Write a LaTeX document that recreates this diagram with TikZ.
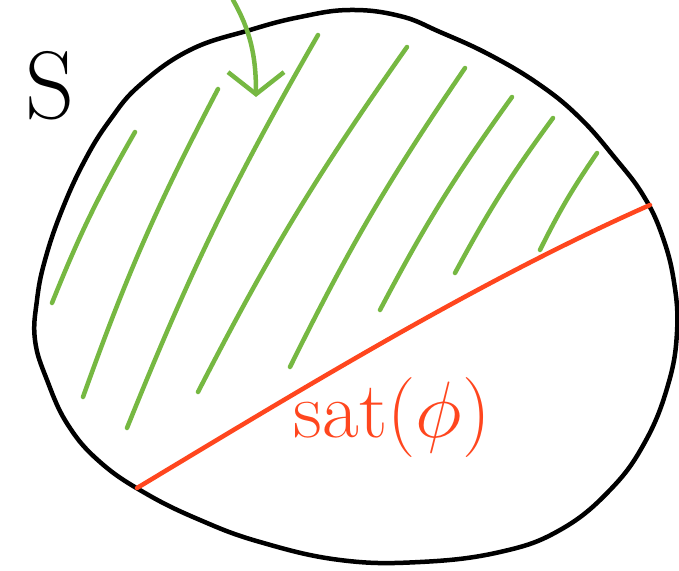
\documentclass[tikz,border=0pt]{standalone}
\usepackage{fix-cm}
\usepackage{tikz}
\usetikzlibrary{arrows.meta}

\definecolor{hatchgreen}{RGB}{118,184,66}
\definecolor{satred}{RGB}{255,70,30}

\begin{document}
\begin{tikzpicture}[
  x=1pt, y=-1pt,
  sketch/.style={line width=4.5pt, line cap=round, line join=round},
  hatch/.style={sketch, draw=hatchgreen},
  label/.style={inner sep=0pt, font=\fontsize{80}{86}\selectfont}
]
\useasboundingbox (0,0) rectangle (679,570);

% the set S
\draw[sketch] plot[smooth cycle, tension=0.7] coordinates {
  (350,10) (400,16) (440,32) (490,55) (540,85) (580,118) (615,158)
  (643,195) (662,235) (674,282) (677,332) (668,385) (645,442)
  (610,490) (560,530) (500,552) (420,562) (340,560) (260,542)
  (200,520) (145,493) (100,462) (68,425) (47,380) (35,340)
  (37,300) (45,260) (62,210) (85,160) (110,120) (140,85) (190,50)
  (250,30) (300,17)};
\node[label, font=\fontsize{96}{100}\selectfont] (setS) at (50,86) {S};

% hatching of the part outside sat(phi)
\foreach \xa/\ya/\xb/\yb in {135/132/52/303, 218/89/83/397, 318/35/127/428,
    407/47/198/392, 465/68/290/367, 512/97/380/310, 553/118/455/273,
    597/153/540/250}
  \draw[hatch] (\xa,\ya) to[bend right=4] (\xb,\yb);

% arrow pointing at the hatched region
\coordinate (arrtop) at (233,0);
\coordinate (arrtip) at (256,97);
\draw[hatch, -{Straight Barb[length=22pt, width=56pt]}]
  (arrtop) .. controls (250,30) and (256,55) .. (arrtip);

% boundary of sat(phi)
\coordinate (redL) at (137,488);
\coordinate (redR) at (650,205);
\draw[sketch, satred] (redL) .. controls (300,390) and (480,280) .. (redR);
\node[label, text=satred] (satphi) at (392,418) {sat($\phi$)};
\end{tikzpicture}
\end{document}
